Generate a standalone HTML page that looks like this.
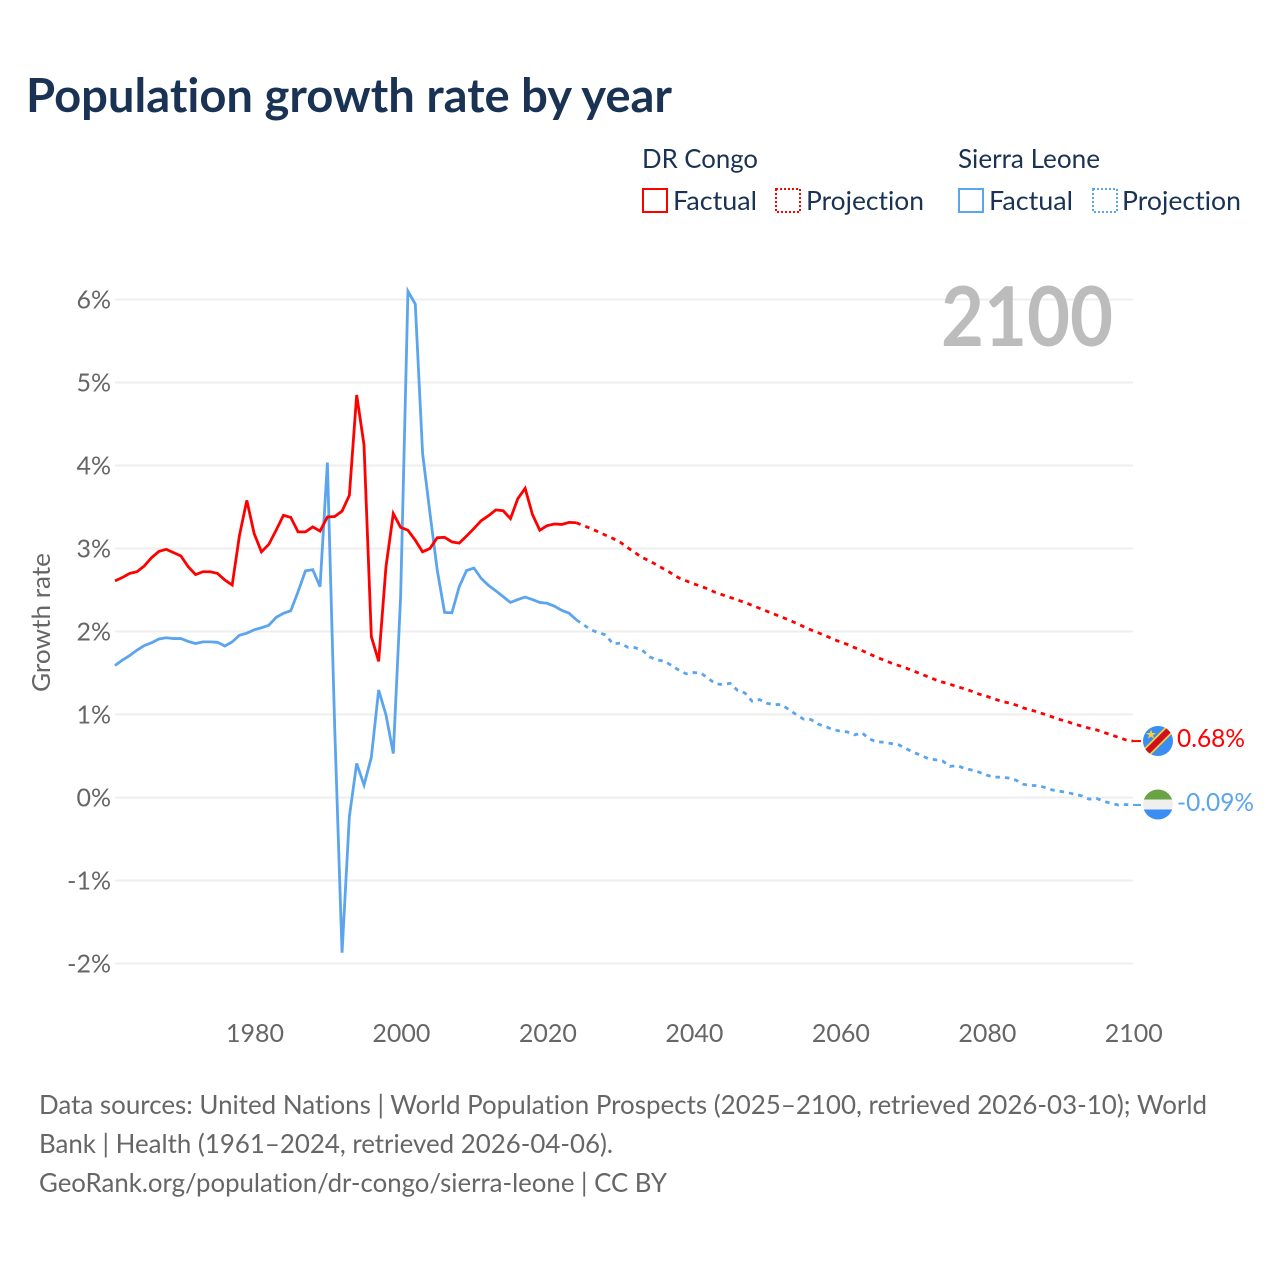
<!DOCTYPE html>
<html lang="en">
<head>
<meta charset="utf-8">
<title>Population growth rate by year</title>
<style>
html,body{margin:0;padding:0;background:#fff;}
svg{display:block;}
text{font-family:"Lato","Carlito","Liberation Sans",sans-serif;font-variant-ligatures:none;font-feature-settings:"liga" 0,"clig" 0;}
.title{font-size:47px;font-weight:700;fill:#1a3354;}
.leg{font-size:26px;fill:#1a3354;}
.tick{font-size:25px;fill:#666;}
.foot{font-size:26px;fill:#666;}
</style>
</head>
<body>
<svg id="chart" xmlns="http://www.w3.org/2000/svg" width="1280" height="1280" viewBox="0 0 1280 1280">
  <text class="title" x="26" y="112" textLength="646" lengthAdjust="spacingAndGlyphs">Population growth rate by year</text>

  <g>
    <text class="leg" x="642" y="168" textLength="116" lengthAdjust="spacingAndGlyphs">DR Congo</text>
    <rect x="643" y="189" width="24" height="23" fill="none" stroke="#f00" stroke-width="2"/>
    <text class="leg" x="673" y="210" textLength="84" lengthAdjust="spacingAndGlyphs">Factual</text>
    <rect x="776" y="189" width="24" height="23" fill="none" stroke="#f00" stroke-width="2" stroke-dasharray="2 2"/>
    <text class="leg" x="806" y="210" textLength="118" lengthAdjust="spacingAndGlyphs">Projection</text>
    <text class="leg" x="958" y="168" textLength="142" lengthAdjust="spacingAndGlyphs">Sierra Leone</text>
    <rect x="959" y="189" width="24" height="23" fill="none" stroke="#5ba4ee" stroke-width="2"/>
    <text class="leg" x="989" y="210" textLength="84" lengthAdjust="spacingAndGlyphs">Factual</text>
    <rect x="1093" y="189" width="24" height="23" fill="none" stroke="#5ba4ee" stroke-width="2" stroke-dasharray="2 2"/>
    <text class="leg" x="1122" y="210" textLength="119" lengthAdjust="spacingAndGlyphs">Projection</text>
  </g>

  <g id="grid"></g>
  <g id="yticks"></g>
  <g id="xticks"></g>

  <text class="tick" transform="translate(50,622.5) rotate(-90)" text-anchor="middle" textLength="139" lengthAdjust="spacingAndGlyphs">Growth rate</text>

  <text x="941" y="346" font-size="82" font-weight="700" fill="#bcbcbc" textLength="172" lengthAdjust="spacingAndGlyphs">2100</text>

  <g id="lines"></g>

  <defs>
    <clipPath id="flag-clip-cd"><circle cx="1158" cy="741" r="15"/></clipPath>
    <clipPath id="flag-clip-sl"><circle cx="1158" cy="804.5" r="15"/></clipPath>
  </defs>
  <g clip-path="url(#flag-clip-cd)">
    <rect x="1143" y="726" width="30" height="30" fill="#3a8df2"/>
    <line x1="1140" y1="759" x2="1176" y2="723" stroke="#f7d038" stroke-width="9.5"/>
    <line x1="1140" y1="759" x2="1176" y2="723" stroke="#ce1021" stroke-width="6"/>
    <polygon points="1151,729.5 1152.3,733 1156,733 1153,735.2 1154.1,738.8 1151,736.6 1147.9,738.8 1149,735.2 1146,733 1149.7,733" fill="#f7d038"/>
  </g>
  <g clip-path="url(#flag-clip-sl)">
    <rect x="1143" y="789" width="30" height="10.5" fill="#6aa343"/>
    <rect x="1143" y="799.5" width="30" height="10" fill="#efefef"/>
    <rect x="1143" y="809.5" width="30" height="11" fill="#3a8df2"/>
  </g>
  <text x="1177" y="747" font-size="25" fill="#f00" textLength="68" lengthAdjust="spacingAndGlyphs">0.68%</text>
  <text x="1177" y="811" font-size="25" fill="#5ba4ee" textLength="77" lengthAdjust="spacingAndGlyphs">-0.09%</text>

  <g>
    <text class="foot" x="39" y="1114" textLength="1168" lengthAdjust="spacingAndGlyphs">Data sources: United Nations | World Population Prospects (2025–2100, retrieved 2026-03-10); World</text>
    <text class="foot" x="39" y="1153" textLength="574" lengthAdjust="spacingAndGlyphs">Bank | Health (1961–2024, retrieved 2026-04-06).</text>
    <text class="foot" x="39" y="1192" textLength="628" lengthAdjust="spacingAndGlyphs">GeoRank.org/population/dr-congo/sierra-leone | CC BY</text>
  </g>
</svg>

<script>
const factualStartYear = 1961;
const yTickValues = [6, 5, 4, 3, 2, 1, 0, -1, -2];
const yTickLabels = ['6%', '5%', '4%', '3%', '2%', '1%', '0%', '-1%', '-2%'];
const xTickValues = [1980, 2000, 2020, 2040, 2060, 2080, 2100];
const xTickLabels = ['1980', '2000', '2020', '2040', '2060', '2080', '2100'];

// 1961..2024
const congoFactual = [
  2.61,2.65,2.70,2.72,2.79,2.89,2.965,2.99,2.95,2.91,
  2.78,2.685,2.72,2.72,2.70,2.62,2.56,3.16,3.58,3.18,
  2.96,3.05,3.22,3.40,3.375,3.20,3.20,3.26,3.21,3.38,
  3.385,3.45,3.64,4.85,4.25,1.94,1.64,2.78,3.42,3.255,
  3.22,3.10,2.96,3.00,3.13,3.135,3.08,3.065,3.15,3.24,
  3.335,3.395,3.465,3.455,3.36,3.60,3.725,3.41,3.22,3.275,
  3.295,3.29,3.315,3.31
];
// 2025..2100
const congoProjection = [
  3.275,3.24,3.20,3.16,3.12,3.075,3.01,2.95,2.89,2.85,
  2.80,2.75,2.70,2.645,2.61,2.575,2.545,2.51,2.47,2.44,
  2.41,2.38,2.35,2.315,2.28,2.245,2.21,2.175,2.14,2.10,
  2.06,2.02,1.985,1.95,1.91,1.875,1.845,1.805,1.77,1.73,
  1.69,1.655,1.62,1.59,1.56,1.525,1.49,1.455,1.42,1.39,
  1.365,1.335,1.31,1.28,1.245,1.22,1.19,1.16,1.14,1.115,
  1.08,1.055,1.03,1.00,0.97,0.94,0.915,0.885,0.86,0.835,
  0.815,0.785,0.755,0.725,0.695,0.68
];
// 1961..2024
const sierraFactual = [
  1.59,1.655,1.71,1.775,1.83,1.865,1.91,1.925,1.915,1.915,
  1.88,1.855,1.875,1.875,1.87,1.825,1.875,1.955,1.98,2.02,
  2.045,2.075,2.17,2.22,2.25,2.48,2.73,2.745,2.54,4.035,
  0.84,-1.87,-0.23,0.41,0.15,0.485,1.295,0.995,0.53,2.42,
  6.10,5.945,4.145,3.43,2.74,2.23,2.225,2.54,2.735,2.765,
  2.64,2.555,2.49,2.42,2.35,2.385,2.415,2.385,2.35,2.34,
  2.305,2.255,2.22,2.14
];
// 2025..2100
const sierraProjection = [
  2.08,2.02,1.985,1.96,1.85,1.86,1.81,1.805,1.775,1.695,
  1.655,1.645,1.59,1.535,1.49,1.505,1.50,1.435,1.37,1.36,
  1.375,1.29,1.26,1.16,1.18,1.135,1.12,1.12,1.06,1.00,
  0.945,0.94,0.885,0.855,0.82,0.80,0.79,0.755,0.78,0.705,
  0.67,0.665,0.65,0.635,0.59,0.545,0.51,0.47,0.455,0.44,
  0.375,0.385,0.35,0.33,0.305,0.27,0.245,0.245,0.235,0.21,
  0.16,0.145,0.145,0.12,0.09,0.075,0.06,0.04,0.02,-0.02,
  -0.01,-0.045,-0.07,-0.09,-0.085,-0.09
];

const NS = 'http://www.w3.org/2000/svg';
const xScale = function (year) { return 115 + (year - 1961) * (1133 - 115) / (2100 - 1961); };
const yScale = function (v) { return 797.5 - v * 83; };

const gridGroup = document.getElementById('grid');
const yGroup = document.getElementById('yticks');
const xGroup = document.getElementById('xticks');
const lineGroup = document.getElementById('lines');

yTickValues.forEach(function (v, i) {
  const ln = document.createElementNS(NS, 'line');
  
  
  ln.setAttribute('x1', 115);
  ln.setAttribute('x2', 1133);
  ln.setAttribute('y1', yScale(v));
  ln.setAttribute('y2', yScale(v));
  ln.setAttribute('stroke', '#eeeeee');
  ln.setAttribute('stroke-width', '2');
  gridGroup.appendChild(ln);

  const t = document.createElementNS(NS, 'text');
  
  
  t.setAttribute('class', 'tick');
  t.setAttribute('x', 111);
  t.setAttribute('y', yScale(v) + 9);
  t.setAttribute('text-anchor', 'end');
  t.textContent = yTickLabels[i];
  yGroup.appendChild(t);
});

xTickValues.forEach(function (v, i) {
  const t = document.createElementNS(NS, 'text');
  
  
  t.setAttribute('class', 'tick');
  t.setAttribute('x', xScale(v) + 0.8);
  t.setAttribute('y', 1042);
  t.setAttribute('text-anchor', 'middle');
  t.textContent = xTickLabels[i];
  xGroup.appendChild(t);
});

function pathFrom(values, startYear, prefix) {
  let d = prefix || '';
  values.forEach(function (v, i) {
    const cmd = (d === '') ? 'M' : 'L';
    d += cmd + xScale(startYear + i).toFixed(2) + ' ' + yScale(v).toFixed(2);
  });
  return d;
}

function drawSeries(name, color, factual, projection) {
  const lastYear = factualStartYear + factual.length - 1;
  const lastVal = factual[factual.length - 1];

  const solid = document.createElementNS(NS, 'path');
  
  
  solid.setAttribute('d', pathFrom(factual, factualStartYear));
  solid.setAttribute('fill', 'none');
  solid.setAttribute('stroke', color);
  solid.setAttribute('stroke-width', '2.8');
  solid.setAttribute('stroke-linejoin', 'miter');
  lineGroup.appendChild(solid);

  const start = 'M' + xScale(lastYear).toFixed(2) + ' ' + yScale(lastVal).toFixed(2);
  const dashed = document.createElementNS(NS, 'path');
  
  
  dashed.setAttribute('d', pathFrom(projection, lastYear + 1, start));
  dashed.setAttribute('fill', 'none');
  dashed.setAttribute('stroke', color);
  dashed.setAttribute('stroke-width', '2.8');
  dashed.setAttribute('stroke-dasharray', '4.5 5');
  lineGroup.appendChild(dashed);

  const endVal = projection[projection.length - 1];
  const leader = document.createElementNS(NS, 'line');
  
  
  leader.setAttribute('x1', xScale(2100));
  leader.setAttribute('x2', xScale(2100) + 8);
  leader.setAttribute('y1', yScale(endVal));
  leader.setAttribute('y2', yScale(endVal));
  leader.setAttribute('stroke', color);
  leader.setAttribute('stroke-width', '2');
  lineGroup.appendChild(leader);
}

drawSeries('sierra-leone', '#5ba4ee', sierraFactual, sierraProjection);
drawSeries('dr-congo', '#ff0000', congoFactual, congoProjection);
</script>
</body>
</html>
